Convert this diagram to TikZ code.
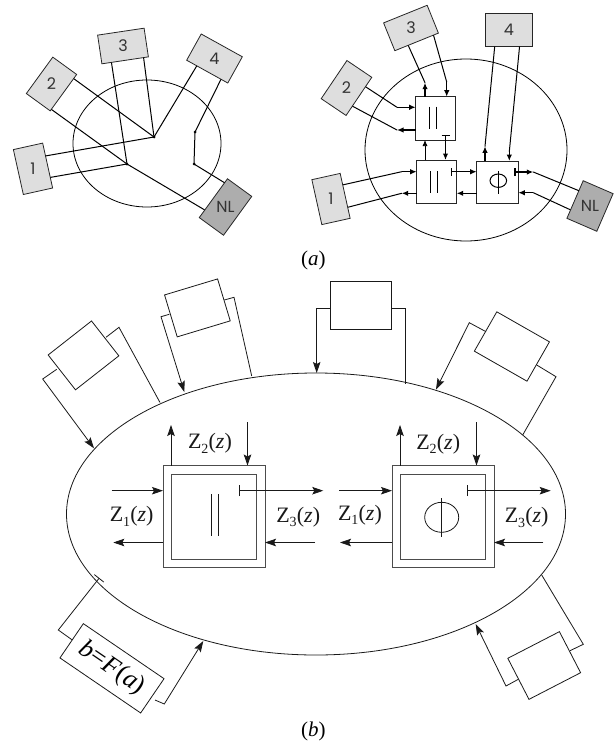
\documentclass[tikz,border=0pt]{standalone}
\usepackage{fontspec}
\setmainfont{Liberation Serif}
\newfontfamily\gothfont{Poppins}
\usetikzlibrary{arrows.meta,calc}
\newcommand{\Zsub}[1]{Z\kern-0.3pt\raisebox{-4.5pt}{\fontsize{14}{14}\selectfont #1}\kern0.3pt(\textit{z})}
\begin{document}
\begin{tikzpicture}[x=1pt,y=-1pt,
  gbox/.style={draw=black!85, fill=black!13, line width=0.8pt, inner sep=0pt},
  nlbox/.style={gbox, fill=black!32},
  dlab/.style={font=\gothfont\fontsize{16}{16}\selectfont, text=black!80, inner sep=0pt},
  con/.style={line width=1pt, line cap=round},
  arr/.style={line width=1.4pt, -{Latex[length=6.5pt,width=5.5pt]}},
  thinarr/.style={line width=0.7pt, -{Latex[length=6pt,width=5pt]}},
  bararr/.style={line width=1.4pt, {Bar[width=8pt,line width=1.2pt]}-{Latex[length=6.5pt,width=5.5pt]}},
  ablk/.style={draw=black!85, fill=white, line width=0.9pt, inner sep=0pt},
  jdot/.style={circle, fill=black, inner sep=0pt, minimum size=3pt},
  bl/.style={line width=0.8pt, draw=black!90},
  barw/.style={bl, -{Stealth[length=11pt,width=7.5pt,inset=2pt]}},
  bbarw/.style={bl, {Bar[width=11pt]}-{Stealth[length=11pt,width=7.5pt,inset=2pt]}},
  bbox/.style={draw=black!90, fill=white, line width=0.8pt, inner sep=0pt},
  outb/.style={draw=black!70, fill=white, line width=1pt, inner sep=0pt, minimum size=102pt},
  inb/.style={draw=black!70, line width=1pt, inner sep=0pt, minimum size=85pt},
  zl/.style={font=\fontsize{22}{22}\selectfont, text=black!90, inner sep=0pt},
  capt/.style={font=\fontsize{21}{21}\selectfont, inner sep=0pt}
]
\useasboundingbox (0,0) rectangle (615,744);

% ================= panel (a), left =================
\draw[line width=0.8pt] (147,143.5) ellipse [x radius=74pt, y radius=63.5pt];
\node[gbox, rotate=102.5, minimum width=46pt, minimum height=30pt] (L1) at (33,168.8) {};
\node[gbox, rotate=54, minimum width=45pt, minimum height=29.5pt] (L2) at (51.5,84) {};
\node[gbox, rotate=8.5, minimum width=47pt, minimum height=29pt] (L3) at (123,46) {};
\node[gbox, rotate=-29, minimum width=47pt, minimum height=30pt] (L4) at (214.5,58.5) {};
\node[nlbox, rotate=54, minimum width=48pt, minimum height=30pt] (LN) at (225.5,207) {};
\node[dlab] at (L1) {1};
\node[dlab] at (L2) {2};
\node[dlab] at (L3) {3};
\node[dlab] at (L4) {4};
\node[dlab] at (LN) {NL};
\coordinate (A) at (154,137);
\coordinate (B) at (127,164);
\coordinate (D1) at (195,132);
\coordinate (D2) at (194,164);
\draw[con] ($(L1.south west)!0.71!(L1.south east)$) -- (A);
\draw[con] ($(L1.south west)!0.24!(L1.south east)$) -- (B);
\draw[con] ($(L2.south west)!0.88!(L2.south east)$) -- (A);
\draw[con] ($(L2.south west)!0.05!(L2.south east)$) -- (B) -- ($(LN.north west)!0.2!(LN.north east)$);
\draw[con] ($(L3.south west)!0.21!(L3.south east)$) -- (B);
\draw[con] ($(L3.south west)!0.89!(L3.south east)$) -- (A);
\draw[con] ($(L4.south west)!0.25!(L4.south east)$) -- (A);
\draw[con] ($(L4.south west)!0.83!(L4.south east)$) -- (D1) -- (D2) -- ($(LN.north west)!0.89!(LN.north east)$);
\foreach \p in {A,B,D1,D2} \node[jdot] at (\p) {};

% ================= panel (a), right =================
\draw[line width=0.8pt] (466,150) ellipse [x radius=101pt, y radius=91pt];
\node[gbox, rotate=22, minimum width=47pt, minimum height=30pt] (R3) at (411,28) {};
\node[gbox, rotate=56, minimum width=46pt, minimum height=30pt] (R2) at (346.5,88) {};
\node[gbox, minimum width=47pt, minimum height=33pt] (R4) at (509,30) {};
\node[gbox, rotate=102.5, minimum width=46pt, minimum height=29pt] (R1) at (331,199) {};
\node[nlbox, rotate=66.6, minimum width=41pt, minimum height=32.6pt] (RN) at (590,206) {};
\node[dlab] at (R1) {1};
\node[dlab] at (R2) {2};
\node[dlab] at (R3) {3};
\node[dlab] at (R4) {4};
\node[dlab] at (RN) {NL};

\node[ablk, minimum width=40pt, minimum height=43.3pt] (T) at (435.7,118.3) {};
\node[ablk, minimum width=40pt, minimum height=43.3pt] (Lb) at (436.7,181.7) {};
\node[ablk, minimum width=41.6pt, minimum height=42.3pt] (P) at (497.5,182.2) {};
% symbols
\draw[line width=1pt] (429.7,106.7) -- (429.7,129) (436.7,106.7) -- (436.7,129);
\draw[line width=1pt] (430.7,171) -- (430.7,193.3) (437.7,171) -- (437.7,193.3);
\draw[line width=1pt] (498.3,180.7) ellipse [x radius=8.3pt, y radius=6.7pt];
\draw[line width=1pt] (498.3,171) -- (498.3,194.3);

% connectors
\coordinate (t3a) at (425,82.7);
\coordinate (t3b) at (446.7,82);
\draw[arr] (425,96.7) -- (t3a);
\draw[con] (t3a) -- ($(R3.south west)!0.31!(R3.south east)$);
\draw[con] ($(R3.south west)!0.88!(R3.south east)$) -- (t3b);
\draw[arr] (t3b) -- (446.7,96.7);

\coordinate (t2a) at (397,107.3);
\coordinate (t2b) at (397,130);
\draw[con] ($(R2.south west)!0.75!(R2.south east)$) -- (t2a);
\draw[arr] (t2a) -- (415.7,107.3);
\draw[arr] (415.7,130) -- (t2b);
\draw[con] (t2b) -- ($(R2.south west)!0.25!(R2.south east)$);

\draw[thinarr] (425,160) -- (425,140);
\draw[bararr] (445.5,135) -- (445.5,160);

\coordinate (t1a) at (401.7,171.7);
\coordinate (t1b) at (401.7,193.3);
\draw[con] ($(R1.south west)!0.74!(R1.south east)$) -- (t1a);
\draw[arr] (t1a) -- (416.7,171.7);
\draw[arr] (416.7,193.3) -- (t1b);
\draw[con] (t1b) -- ($(R1.south west)!0.25!(R1.south east)$);

\draw[bararr] (450.7,171.7) -- (476.7,171.7);
\draw[arr] (476.7,193.3) -- (456.7,193.3);

\coordinate (t4a) at (485,146.3);
\coordinate (t4b) at (509.3,151.7);
\draw[arr] (485,161) -- (t4a);
\draw[con] (t4a) -- ($(R4.south west)!0.2!(R4.south east)$);
\draw[con] ($(R4.south west)!0.72!(R4.south east)$) -- (t4b);
\draw[arr] (t4b) -- (509.3,161);

\coordinate (tna) at (533.3,172);
\coordinate (tnb) at (533.3,192.7);
\draw[bararr] (514.3,172) -- (tna);
\draw[con] (tna) -- ($(RN.north west)!0.73!(RN.north east)$);
\draw[con] ($(RN.north west)!0.23!(RN.north east)$) -- (tnb);
\draw[arr] (tnb) -- (518.3,192.7);

\node[capt] at (313.3,260) {(\textit{a})};

% ================= panel (b) =================
\draw[bl] (316,514) ellipse [x radius=249.5pt, y radius=141pt];

\node[bbox, minimum width=61.7pt, minimum height=47.6pt] (TC) at (360.8,305.5) {};
\node[bbox, rotate=-29.7, minimum width=60.6pt, minimum height=45.3pt] (TR) at (511.9,346.5) {};
\node[bbox, rotate=27.3, minimum width=58.1pt, minimum height=46.2pt] (BR) at (544.2,665.5) {};
\node[bbox, rotate=38.1, minimum width=55.1pt, minimum height=44.3pt] (TL1) at (83.5,355.4) {};
\node[bbox, rotate=16.8, minimum width=55.4pt, minimum height=43.8pt] (TL2) at (197.4,307.9) {};
\node[bbox, rotate=-34.3, minimum width=97.7pt, minimum height=41.5pt, font=\fontsize{26}{26}\selectfont] (BL) at (112,668.3) {\textit{b}=\textit{F}(\textit{a})};

\draw[barw] (330,308.3) -- (316.7,308.3) -- (316.7,373);
\draw[bl] (391.7,308.3) -- (405.7,308.3) -- (405.7,384);
\draw[barw] (486,331.7) -- (469.3,322.7) -- (436,389.5);
\draw[bl] (536.7,365) -- (556,376.7) -- (522.7,435);
\draw[barw] (518.3,679.3) -- (506,686) -- (475.7,624);
\draw[bl] (570,650.7) -- (583.3,644.3) -- (541.7,575);
\draw[bl, -{Bar[width=12pt]}] (72.3,640) -- (58.3,630) -- (99.3,578);
\draw[barw] (155,700) -- (164.3,704) -- (203.3,641);
\draw[barw] (56.7,369.3) -- (42.7,379) -- (94,448.3);
\draw[bl] (106,337.3) -- (119,327.3) -- (160,402.5);
\draw[barw] (169.3,314.3) -- (161,316.7) -- (184.3,392);
\draw[bl] (224.3,300) -- (234,297.3) -- (251.7,376);

% left block (parallel)
\begin{scope}[shift={(214,516.5)}]
  \node[outb] (Bo1) at (0,0) {};
  \node[inb] (Bi1) at (0,0) {};
  \draw[bl] (-3,-22.5) -- (-3,19.5) (4.3,-22.5) -- (4.3,19.5);
  \draw[barw] (-102.3,-25.8) -- (-51,-25.8);
  \draw[barw] (-51,26) -- (-100.7,26);
  \draw[barw] (-43,-51) -- (-43,-91.5);
  \draw[barw] (33.5,-94.5) -- (33.5,-51);
  \draw[bbarw] (25.3,-25.8) -- (109.3,-25.8);
  \draw[barw] (101,26) -- (51,26);
  \node[zl] at (-4,-73.2) {\Zsub{2}};
  \node[zl] at (-82.3,0) {\Zsub{1}};
  \node[zl] at (84.3,0.5) {\Zsub{3}};
\end{scope}

% right block (phi)
\begin{scope}[shift={(443,516.5)}]
  \node[outb] (Bo2) at (0,0) {};
  \node[inb] (Bi2) at (0,0) {};
  \draw[bl] (-1.3,0.8) ellipse [x radius=17pt, y radius=15pt];
  \draw[bl] (-1.3,-18.2) -- (-1.3,20.8);
  \draw[barw] (-103.7,-25.8) -- (-51,-25.8);
  \draw[barw] (-51,26) -- (-103,26);
  \draw[barw] (-43,-51) -- (-43,-91.5);
  \draw[barw] (33.5,-94.5) -- (33.5,-51);
  \draw[bbarw] (23.7,-25.8) -- (107.7,-25.8);
  \draw[barw] (100.3,26) -- (51,26);
  \node[zl] at (-4.7,-72.5) {\Zsub{2}};
  \node[zl] at (-83,-1.5) {\Zsub{1}};
  \node[zl] at (83.7,0.8) {\Zsub{3}};
\end{scope}

\node[capt] at (313.3,731.7) {(\textit{b})};
\end{tikzpicture}
\end{document}
